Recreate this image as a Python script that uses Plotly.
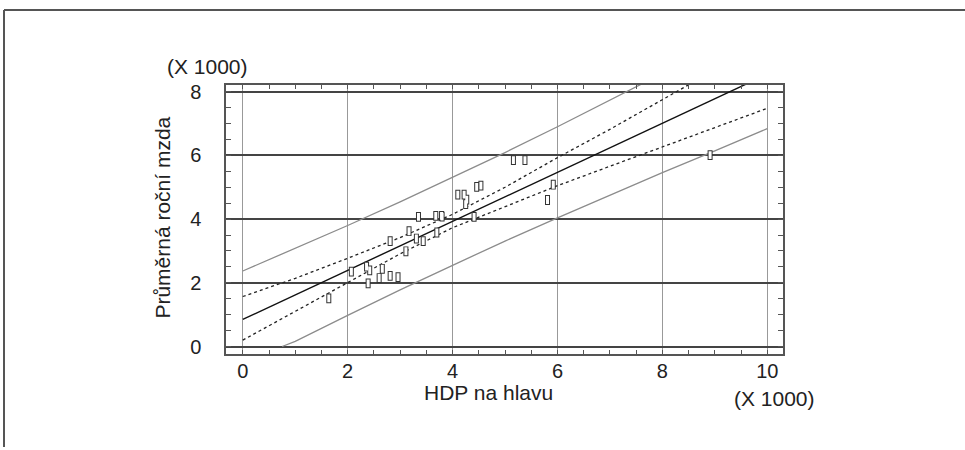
import plotly.graph_objects as go

# Data (values in thousands)
hdp = [1.64, 2.07, 2.36, 2.42, 2.39, 2.60, 2.66, 2.81, 2.96, 2.81, 3.11, 3.17, 3.31, 3.44,
       3.70, 3.35, 3.68, 3.79, 3.80, 4.10, 4.22, 4.27, 4.25, 4.41, 4.46, 4.54, 5.16, 5.38,
       5.81, 5.92, 8.91]
mzda = [1.51, 2.35, 2.51, 2.39, 1.98, 2.15, 2.44, 2.22, 2.18, 3.31, 2.99, 3.62, 3.39, 3.31,
        3.58, 4.07, 4.10, 4.10, 4.08, 4.77, 4.77, 4.61, 4.47, 4.07, 5.01, 5.05, 5.85, 5.85,
        4.60, 5.08, 6.01]

line_x = [0, 1, 2, 3, 4, 5, 6, 7, 8, 9, 10]
fitted = [0.85, 1.62, 2.39, 3.16, 3.93, 4.70, 5.47, 6.24, 7.01, 7.78, 8.55]
conf_upper = [1.57, 2.14, 2.77, 3.42, 4.15, 5.00, 5.93, 6.82, 7.75, 8.69, 9.62]
conf_lower = [0.20, 1.10, 2.02, 2.91, 3.73, 4.40, 5.05, 5.66, 6.27, 6.87, 7.48]
pred_upper = [2.37, 3.08, 3.80, 4.54, 5.31, 6.09, 6.90, 7.72, 8.56, 9.41, 10.28]
pred_lower_x = [0.75, 1, 2, 3, 4, 5, 6, 7, 8, 9, 10]
pred_lower = [0.0, 0.16, 0.98, 1.78, 2.55, 3.31, 4.04, 4.76, 5.46, 6.14, 6.84]

x_ticks = [0, 2, 4, 6, 8, 10]
y_ticks = [0, 2, 4, 6, 8]

FONT = "Liberation Sans, Arial, sans-serif"
TITLE_SIZE = 21
TICK_SIZE = 20
UNIT_SIZE = 21

fig = go.Figure()

fig.add_trace(go.Scatter(x=line_x, y=pred_upper, mode="lines",
                         line=dict(color="#8c8c8c", width=1.3), hoverinfo="skip"))
fig.add_trace(go.Scatter(x=pred_lower_x, y=pred_lower, mode="lines",
                         line=dict(color="#8c8c8c", width=1.3), hoverinfo="skip"))
fig.add_trace(go.Scatter(x=line_x, y=conf_upper, mode="lines",
                         line=dict(color="#222222", width=1.3, dash="dot"), hoverinfo="skip"))
fig.add_trace(go.Scatter(x=line_x, y=conf_lower, mode="lines",
                         line=dict(color="#222222", width=1.3, dash="dot"), hoverinfo="skip"))
fig.add_trace(go.Scatter(x=line_x, y=fitted, mode="lines",
                         line=dict(color="#111111", width=1.4), hoverinfo="skip"))
# hollow tall rectangles: dark thick vertical bar with a white inner bar
fig.add_trace(go.Scatter(x=hdp, y=mzda, mode="markers",
                         marker=dict(symbol="line-ns", size=7,
                                     line=dict(color="#333333", width=5))))
fig.add_trace(go.Scatter(x=hdp, y=mzda, mode="markers",
                         marker=dict(symbol="line-ns", size=5.6,
                                     line=dict(color="white", width=3)), hoverinfo="skip"))

xd = [226 / 965, 783 / 965]
yd = [1 - 356 / 450, 1 - 82 / 450]

fig.update_layout(
    width=965, height=450,
    margin=dict(l=0, r=0, t=0, b=0),
    paper_bgcolor="white", plot_bgcolor="white",
    showlegend=False,
    font=dict(family=FONT, size=TICK_SIZE, color="#222222"),
    xaxis=dict(domain=xd, range=[-0.32, 10.3], tickvals=x_ticks,
               ticktext=[str(v) for v in x_ticks],
               showgrid=True, gridcolor="#999999", gridwidth=1,
               zeroline=False, showline=True, linecolor="#555555", linewidth=1.5,
               mirror="allticks", ticks="inside", ticklen=5, tickcolor="#555555",
               minor=dict(dtick=0.5, tick0=0, ticks="inside", ticklen=5,
                          tickcolor="#555555", showgrid=False),
               ticklabelstandoff=-2, tickfont=dict(size=TICK_SIZE)),
    yaxis=dict(domain=yd, range=[-0.25, 8.22], tickvals=y_ticks,
               ticktext=[str(v) for v in y_ticks],
               showgrid=True, gridcolor="#444444", gridwidth=2,
               zeroline=False, showline=True, linecolor="#555555", linewidth=1.5,
               mirror="allticks", ticks="inside", ticklen=5, tickcolor="#555555",
               minor=dict(dtick=0.5, tick0=0, ticks="inside", ticklen=5,
                          tickcolor="#555555", showgrid=False),
               ticklabelstandoff=19, tickfont=dict(size=TICK_SIZE)),
)

fig.add_annotation(text="HDP na hlavu", xref="paper", yref="paper",
                   x=488 / 965, y=1 - 395 / 450, xanchor="center", yanchor="middle",
                   showarrow=False, font=dict(size=TITLE_SIZE))
fig.add_annotation(text="Průměrná roční mzda", xref="paper", yref="paper",
                   x=163 / 965, y=1 - 217 / 450, xanchor="center", yanchor="middle",
                   textangle=-90, showarrow=False, font=dict(size=TITLE_SIZE))
fig.add_annotation(text="(X 1000)", xref="paper", yref="paper",
                   x=207 / 965, y=1 - 63 / 450, xanchor="center", yanchor="middle",
                   showarrow=False, font=dict(size=UNIT_SIZE))
fig.add_annotation(text="(X 1000)", xref="paper", yref="paper",
                   x=774 / 965, y=1 - 401 / 450, xanchor="center", yanchor="middle",
                   showarrow=False, font=dict(size=UNIT_SIZE))

# outer frame (top and left edges)
fig.add_shape(type="line", xref="paper", yref="paper", x0=4 / 965, x1=1, y0=1 - 6 / 450, y1=1 - 6 / 450,
              line=dict(color="#555555", width=2))
fig.add_shape(type="line", xref="paper", yref="paper", x0=4 / 965, x1=4 / 965, y0=0, y1=1 - 6 / 450,
              line=dict(color="#555555", width=2))

fig.write_html("out.html", config={"displayModeBar": False},
               post_script="document.body.style.margin='0';document.body.style.overflow='hidden';")
